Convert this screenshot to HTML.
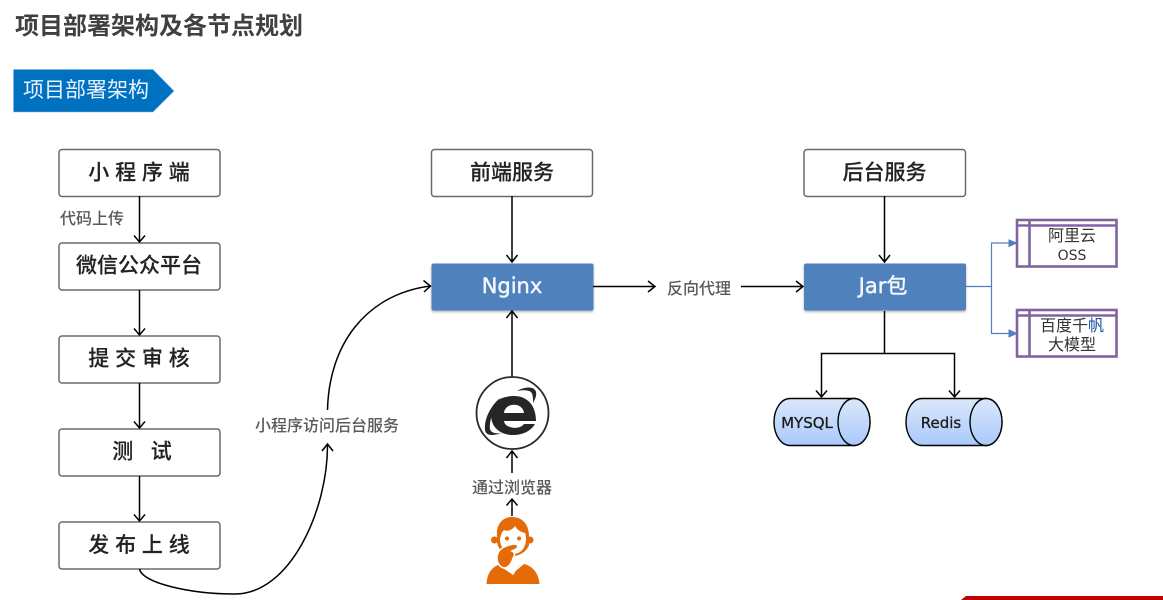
<!DOCTYPE html>
<html><head><meta charset="utf-8">
<style>
html,body{margin:0;padding:0;background:#fff;width:1163px;height:600px;overflow:hidden}
svg{display:block}
text{font-family:"DejaVu Sans","Noto Sans CJK SC",sans-serif}
.cjk{font-family:"Liberation Sans","Noto Sans CJK SC",sans-serif}
.box{fill:#fff;stroke:#6a6a6a;stroke-width:1.5}
.blue{fill:#4f81bd}
.l{fill:none;stroke:#000;stroke-width:1.5}
.bt{font-size:21px;font-weight:500;fill:#222;text-anchor:middle;stroke:#222;stroke-width:.15}
.lb{font-size:16px;font-weight:500;fill:#595959;text-anchor:middle}
.p{fill:none;stroke:#8064a2;stroke-width:2.6}
.pt{font-size:16px;fill:#333;text-anchor:middle}
.bl{fill:none;stroke:#4f81bd;stroke-width:1.2}
.ct{font-size:15px;fill:#1a1a1a;text-anchor:middle;stroke:#1a1a1a;stroke-width:.3}
.wt{font-size:21px;fill:#f4f7fb;text-anchor:middle;stroke:#f4f7fb;stroke-width:.45}
</style></head>
<body>
<svg width="1163" height="600" viewBox="0 0 1163 600" xmlns="http://www.w3.org/2000/svg">
<defs>
<linearGradient id="g" x1="0" y1="0" x2="0" y2="1"><stop offset="0" stop-color="#dbe8fb"/><stop offset="1" stop-color="#a9c9fb"/></linearGradient>
<filter id="s" x="-5%" y="-10%" width="110%" height="125%"><feDropShadow dx="0" dy="1.5" stdDeviation="1.2" flood-color="#000" flood-opacity=".3"/></filter>
</defs>

<text class="cjk" x="15" y="34" font-size="24" font-weight="700" fill="#404040">项目部署架构及各节点规划</text>

<polygon points="13.500,69.500 153,69.500 174,91 153,112 13.500,112" fill="#0070c0" stroke="#7fb4de" stroke-width=".6"/>
<text class="cjk" x="23" y="97" font-size="21" fill="#eaf3fb">项目部署架构</text>

<!-- left column -->
<rect class="box" x="59" y="149.500" width="161" height="47" rx="3"/>
<text class="cjk bt" x="139" y="179.500">小 程 序 端</text>
<rect class="box" x="59" y="243" width="161" height="47" rx="3"/>
<text class="cjk bt" x="139" y="272.500">微信公众平台</text>
<rect class="box" x="59" y="336" width="161" height="47" rx="3"/>
<text class="cjk bt" x="139" y="365.500">提 交 审 核</text>
<rect class="box" x="59" y="429" width="161" height="47" rx="3"/>
<text class="cjk bt" x="142" y="458.500">测 &#160; 试</text>
<rect class="box" x="59" y="522" width="161" height="47" rx="3"/>
<text class="cjk bt" x="139" y="552">发 布 上 线</text>

<text class="cjk lb" x="92" y="224">代码上传</text>

<path class="l" d="M139.500 196V242M134 235.500l5.500 6.500 5.500-6.500"/>
<path class="l" d="M139.500 290V335M134 328.500l5.500 6.500 5.500-6.500"/>
<path class="l" d="M139.500 383V428M134 421.500l5.500 6.500 5.500-6.500"/>
<path class="l" d="M139.500 476V521M134 514.500l5.500 6.500 5.500-6.500"/>

<!-- curve -->
<path class="l" d="M139.500 569C142 583 190 594 235 594C290 594 328 510 327.500 444M322 451l5.500-7 5.500 7"/>
<path class="l" d="M327.500 410C329 345 365 295 430 286M423.500 280.500l7 5.500-6.500 6"/>
<text class="cjk lb" x="327" y="431">小程序访问后台服务</text>

<!-- center -->
<rect class="box" x="431.500" y="149.500" width="161" height="47" rx="3"/>
<text class="cjk bt" x="512" y="179.500">前端服务</text>
<path class="l" d="M512 196V262M506.500 255l5.500 7 5.500-7"/>
<rect class="blue" x="431.500" y="263.500" width="162" height="47" rx="2" filter="url(#s)"/>
<text class="wt" x="512" y="293">Nginx</text>
<path class="l" d="M593 286.500H655M648 281l7 5.500-7 5.500"/>
<text class="cjk lb" x="699" y="294">反向代理</text>
<path class="l" d="M741 286.500H803M796 281l7 5.500-7 5.500"/>

<path class="l" d="M512 311V377"/>
<path class="l" d="M506.500 318l5.500-7 5.500 7"/>
<!-- IE icon -->
<circle cx="512.500" cy="413" r="36" fill="#fff" stroke="#2a2a2a" stroke-width="1.800"/>
<g fill="#262626">
<path fill-rule="evenodd" d="M491 415C491 402 501 396 514 396C527 396 536 405 536 421H504C505 429 520 430 524 424H535C531 431 523 435 513 435C500 435 491 427 491 415ZM504 413H524C523 402 505 402 504 413Z"/>
<path d="M517 391C522 388 530 386 534 389C538 392 536 398 533 403C533 397 533 392 529 391C526 390 521 390 517 391Z"/>
<path d="M500 398C491 406 484 418 485 430C486 436 492 436 502 433C496 434 491 433 490 429C489 420 494 408 500 398Z"/>
</g>
<path class="l" d="M512 473V451M506.500 458l5.500-7 5.500 7"/>
<text class="cjk lb" x="512" y="493">通过浏览器</text>
<path class="l" d="M512 516V499M506.500 505.500l5.500-6.500 5.500 6.500"/>
<!-- person -->
<g fill="#e36c09">
<path d="M486.500 584C487 574 491 568 498 565L512 574L524 564C533 566 539 574 539.500 584Z"/>
<circle cx="494.500" cy="540" r="3.500"/><circle cx="530" cy="540" r="3.500"/>
<path d="M497 536C496 524 503 517 512 517C522 517 529 524 529 536L529 545C527 551 520 556 513 556C505 556 498 550 497 542Z"/>
</g>
<path d="M500 539C501 534 502 532 504 530C508 532 512 530 515 526C517 530 521 532 525 533C527 538 526 545 523 549C520 553 516 554 512 554C505 553 500 547 500 539Z" fill="#fff"/>
<circle cx="507" cy="538.500" r="2" fill="#e36c09"/><circle cx="519" cy="538.500" r="2" fill="#e36c09"/>
<path d="M498 553C500 548 507 545 514 544C518 544 519 547 516 549L512 551C515 552 515 556 513 558C512 563 509 567 505 568C499 568 495 560 498 553Z" fill="#e36c09" stroke="#fff" stroke-width="1.500"/>
<path d="M506 569L513 574L518 566" fill="none" stroke="#fff" stroke-width="1.500"/>

<!-- right -->
<rect class="box" x="804" y="149.500" width="161.500" height="47" rx="3"/>
<text class="cjk bt" x="884.500" y="179.500">后台服务</text>
<path class="l" d="M884.500 196V262M879 255l5.500 7 5.500-7"/>
<rect class="blue" x="804" y="263.500" width="162" height="47" rx="2" filter="url(#s)"/>
<text class="wt" x="883" y="293">Jar包</text>

<path class="l" d="M884.500 311V353.500M821.500 397V353.500H954.500V397M816 390.500l5.500 6.500 5.500-6.500M949 390.500l5.500 6.500 5.500-6.500"/>

<!-- cylinders -->
<path d="M790 398.500H854A16 23.500 0 0 1 854 445.500H790A16 23.500 0 0 1 790 398.500Z" fill="url(#g)" stroke="#000" stroke-width="1.400"/>
<ellipse cx="854" cy="422" rx="16" ry="23.500" fill="url(#g)" stroke="#000" stroke-width="1.400"/>
<text class="ct" x="807" y="428">MYSQL</text>
<path d="M922 398.500H986A16 23.500 0 0 1 986 445.500H922A16 23.500 0 0 1 922 398.500Z" fill="url(#g)" stroke="#000" stroke-width="1.400"/>
<ellipse cx="986" cy="422" rx="16" ry="23.500" fill="url(#g)" stroke="#000" stroke-width="1.400"/>
<text class="ct" x="941" y="428">Redis</text>

<!-- blue connector -->
<path class="bl" d="M966 286.500H991.500V243H1010M991.500 286.500V333.500H1010"/>
<polygon points="1009,240 1016.500,243 1009,246.500" fill="#4f81bd" stroke="#4f81bd"/>
<polygon points="1009,330 1016.500,333.500 1009,337" fill="#4f81bd" stroke="#4f81bd"/>

<rect class="p" x="1017" y="220" width="99.500" height="46.500"/>
<path class="p" d="M1029.500 220V266.500M1017 225.500H1116"/>
<text class="cjk pt" x="1072" y="241">阿里云</text>
<text class="pt" x="1072" y="260" style="font-size:14px">OSS</text>
<rect class="p" x="1017" y="310" width="99.500" height="46.500"/>
<path class="p" d="M1029.500 310V356.500M1017 315.500H1116"/>
<text class="cjk pt" x="1072" y="331">百度千<tspan fill="#1a4fa8">帆</tspan></text>
<text class="cjk pt" x="1072" y="350">大模型</text>

<!-- footer -->
<polygon points="961,600 966,596 1163,596 1163,600" fill="#c00000"/>
</svg>
</body></html>
